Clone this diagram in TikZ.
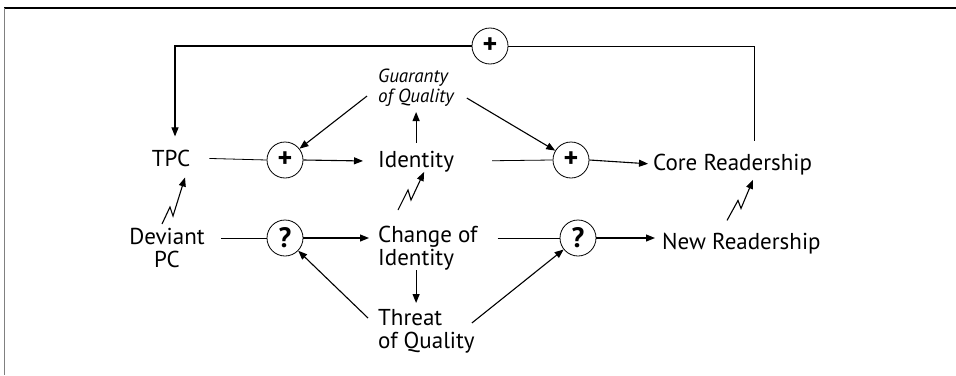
\documentclass[tikz,border=0pt]{standalone}
\usepackage{fontspec}
\setmainfont{PT Sans}
\usetikzlibrary{arrows.meta}

\begin{document}
\begin{tikzpicture}[x=1pt, y=-1pt,
    every node/.style={font=\fontsize{23}{23}\selectfont, inner sep=0pt},
    sum/.style={draw, circle, line width=0.8pt, minimum size=36pt, font=\fontsize{28}{28}\selectfont\bfseries},
    arr/.style={-{Triangle[length=9pt,width=7pt]}, line width=1.1pt},
    ln/.style={line width=0.8pt}]
    \useasboundingbox (0,0) rectangle (956,375);
    \draw [line width=1.6pt] (4,8) -- (956,8);
    \draw [gray, line width=0.8pt] (4,8) -- (4,375);
    % variables
    \node (tpc) [anchor=base] at (171,166) {TPC};
    \node (ident) [anchor=base west] at (378,167) {Identity};
    \node (guar) [anchor=south west, align=left, font=\fontsize{19}{20}\selectfont\itshape] at (378,107) {Guaranty\\of Quality};
    \node (core) [anchor=base west] at (653,170) {Core Readership};
    \node (dev) [anchor=north, align=center] at (167,228) {Deviant\\PC};
    \node (chg) [anchor=north west, align=left] at (378,226) {Change of\\Identity};
    \node (threat) [anchor=north west, align=left] at (378,309) {Threat\\of Quality};
    \node (newr) [anchor=base west] at (662,249) {New Readership};
    % junctions
    \node (c1) [sum] at (285,160) {+};
    \node (c2) [sum] at (571,160) {+};
    \node (c3) [sum] at (285,238) {?};
    \node (c4) [sum] at (578,238) {?};
    \node (ctop) [sum] at (490,46) {+};
    % links
    \draw [ln, shorten <=19pt] (tpc.east) -- (c1.west);
    \draw [arr, shorten >=15pt] (c1.east) -- (ident.west);
    \draw [ln, shorten <=38pt] (ident.east) -- (c2.west);
    \draw [arr, shorten >=5pt] (c2.east) -- (core.west);
    \draw [ln, shorten <=16pt] (dev.east |- c3) -- (c3.west);
    \draw [arr, shorten >=9pt] (c3.east) -- (chg.west |- c3);
    \draw [ln, shorten <=20pt] (chg.east |- c4) -- (c4.west);
    \draw [arr, shorten >=7pt] (c4.east) -- (newr.west |- c4);
    \draw [arr, shorten <=8pt, shorten >=5pt] (ident.north) -- (ident.north |- guar.south);
    \draw [arr, shorten >=6pt] (chg.south -| ident.north) -- (threat.north -| ident.north);
    \draw [arr] ([shift={(-11pt,-8pt)}]guar.west) -- (c1);
    \draw [arr] ([shift={(13pt,-10pt)}]guar.east) -- (c2);
    \draw [arr] ([shift={(-10pt,-9pt)}]threat.north west) -- (c3);
    \draw [arr] ([shift={(-3pt,-14pt)}]threat.north east) -- (c4);
    \draw [arr, shorten >=13pt] (ctop.west) -| ([xshift=4pt]tpc.north);
    \draw [ln, shorten >=12pt] (ctop.east) -| ([xshift=22pt]core.north);
    % influences
    \draw [arr] ([shift={(-5pt,4pt)}]dev.north) -- ++(8,-17) -- ++(3,9) -- ([shift={(14pt,-11pt)}]tpc.south);
    \draw [arr] ([shift={(20pt,16pt)}]chg.north west) -- ++(10,-20) -- ++(3,10) -- ([xshift=8pt]ident.south);
    \draw [arr] ([shift={(65pt,12pt)}]newr.north west) -- ++(11,-20) -- ++(3,8) -- ([shift={(100pt,-5pt)}]core.south west);
\end{tikzpicture}
\end{document}
